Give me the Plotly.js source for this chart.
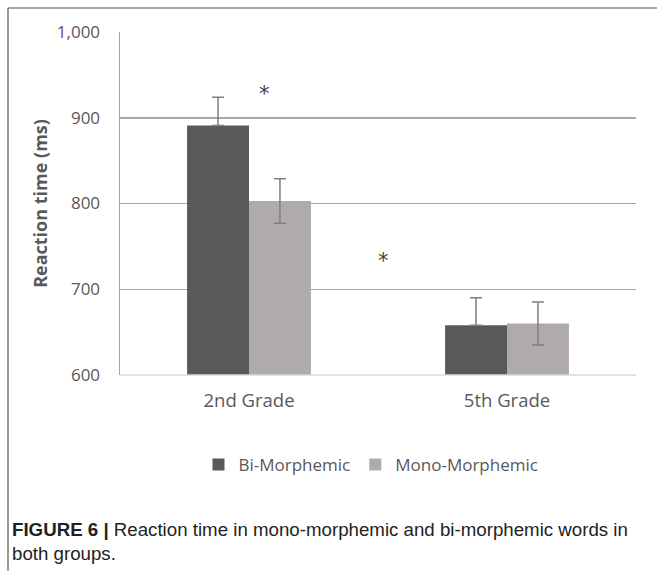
<!DOCTYPE html>
<html>
<head>
<meta charset="utf-8">
<script src="https://cdn.plot.ly/plotly-3.0.1.min.js"></script>
<style>
  html, body { margin: 0; padding: 0; background: #fff; }
  #chart { width: 657px; height: 571px; }
</style>
</head>
<body>
<div id="chart"></div>
<script>
const categories = ["2nd Grade", "5th Grade"];
const seriesNames = ["Bi-Morphemic", "Mono-Morphemic"];
const biValues = [891, 658];
const biErrors = [33, 32];
const monoValues = [803, 660];
const monoErrors = [26, 25];
const yTicks = [600, 700, 800, 900, 1000];
const captionBold = "FIGURE 6 |";
const captionText = " Reaction time in mono-morphemic and bi-morphemic words in<br>both groups.";
const starMarks = [
  {x: 0.06, y: 928},
  {x: 0.52, y: 733}
];

const W = 657, H = 571;
const M = {l: 120, r: 21, t: 32, b: 196};
const pw = W - M.l - M.r, ph = H - M.t - M.b;
const px = v => (v - M.l) / pw;
const py = v => (H - M.b - v) / ph;

const tickColor = "#595959";
const fontFam = "'Open Sans', Lato, sans-serif";

const traces = [
  {
    type: "bar", name: seriesNames[0], x: categories, y: biValues,
    marker: {color: "#595959"},
    error_y: {type: "data", symmetric: false, array: biErrors, arrayminus: biErrors.map(() => 0),
              visible: true, color: "#7f7f7f", thickness: 1.5, width: 6}
  },
  {
    type: "bar", name: seriesNames[1], x: categories, y: monoValues,
    marker: {color: "#afabab"},
    error_y: {type: "data", array: monoErrors, visible: true, color: "#7f7f7f", thickness: 1.5, width: 6}
  }
];

const annotations = starMarks.map(s => ({
  x: s.x, y: s.y, xref: "x", yref: "y", text: "*", showarrow: false,
  font: {family: "'DejaVu Sans', sans-serif", size: 21, color: "#404040"}
}));
annotations.push({
  xref: "paper", yref: "paper", x: px(10), y: py(517), xanchor: "left", yanchor: "top",
  align: "left", showarrow: false,
  text: "<b>" + captionBold + "</b>" + captionText,
  font: {family: "'Liberation Sans', Arial, sans-serif", size: 18.7, color: "#222"}
});

const layout = {
  width: W, height: H,
  margin: M,
  paper_bgcolor: "#fff", plot_bgcolor: "#fff",
  barmode: "group", bargap: 0.52, bargroupgap: 0,
  showlegend: true,
  legend: {
    orientation: "h", x: px(371), xanchor: "center", y: py(465), yanchor: "middle",
    font: {family: fontFam, size: 17, color: tickColor}, itemwidth: 30
  },
  xaxis: {
    type: "category",
    tickfont: {family: fontFam, size: 18.5, color: tickColor},
    showline: false, showgrid: false, zeroline: false, ticks: "",
    ticklabelstandoff: 12
  },
  yaxis: {
    range: [600, 1000], tickvals: yTicks, tickformat: ",",
    tickfont: {family: fontFam, size: 17, color: tickColor},
    showgrid: true, gridcolor: "#a6a6a6", gridwidth: 1.5,
    showline: true, linecolor: "#a6a6a6", linewidth: 1.5,
    zeroline: false, ticks: "", ticklabelstandoff: 15,
    title: {text: "<b>Reaction time (ms)</b>", font: {family: fontFam, size: 18, color: tickColor}, standoff: 4}
  },
  annotations: annotations,
  shapes: [
    {type: "line", xref: "paper", yref: "paper", x0: px(8), x1: px(657), y0: py(8), y1: py(8), line: {color: "#555", width: 1.2}},
    {type: "line", xref: "paper", yref: "paper", x0: px(8), x1: px(8), y0: py(8), y1: py(571), line: {color: "#555", width: 1.2}},
    {type: "line", xref: "paper", yref: "paper", x0: 0, x1: 1, y0: 0, y1: 0, line: {color: "#d9d9d9", width: 1.5}}
  ]
};

Plotly.newPlot("chart", traces, layout, {displayModeBar: false, staticPlot: true});
</script>
</body>
</html>
